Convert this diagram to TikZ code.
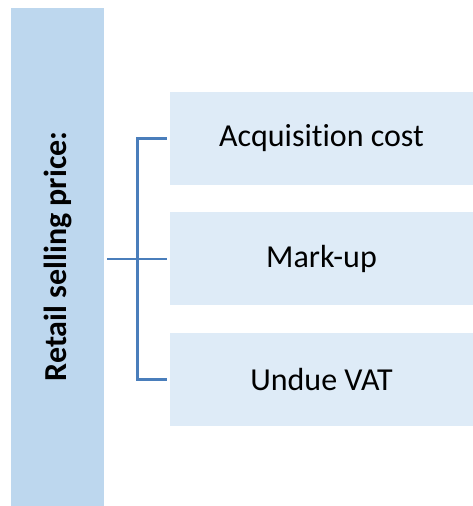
\documentclass[tikz,border=0pt]{standalone}
\usepackage{fontspec}
\setmainfont{Carlito}[Ligatures={NoCommon}]
\usetikzlibrary{positioning}
\definecolor{barblue}{RGB}{189,215,238}
\definecolor{boxblue}{RGB}{222,235,247}
\definecolor{lineblue}{RGB}{74,126,187}
\begin{document}
\begin{tikzpicture}[
      x=1pt, y=-1pt,
      node distance=27pt,
      barre/.style={
        fill=barblue,
        inner sep=0pt,
        minimum width=93pt,
        minimum height=498pt
      },
      composant/.style={
        fill=boxblue,
        inner sep=0pt,
        minimum width=303pt,
        minimum height=93pt,
        font=\fontsize{32}{38}\selectfont
      },
      lien/.style={
        draw=lineblue,
        line width=2.4pt
      }
    ]
    \useasboundingbox (0,0) rectangle (473,506);
    \node[barre] (prix) at (57.5,256.5) {};
    \node[rotate=90, font=\fontsize{32}{38}\selectfont\bfseries] (titre) at (prix.center) {Retail selling price:};
    \node[composant] (achat) at (321.5,138.5) {Acquisition cost};
    \node[composant, below=of achat] (marge) {Mark-up};
    \node[composant, below=of marge] (tva) {Undue VAT};
    \coordinate (fourche) at (137.5,259.5);
    \draw[lien] ([xshift=3pt]prix.east |- marge.west) -- ([xshift=-3pt]marge.west);
    \draw[lien] ([xshift=-3pt]achat.west) -| (fourche) |- ([xshift=-3pt]tva.west);
  \end{tikzpicture}
\end{document}
